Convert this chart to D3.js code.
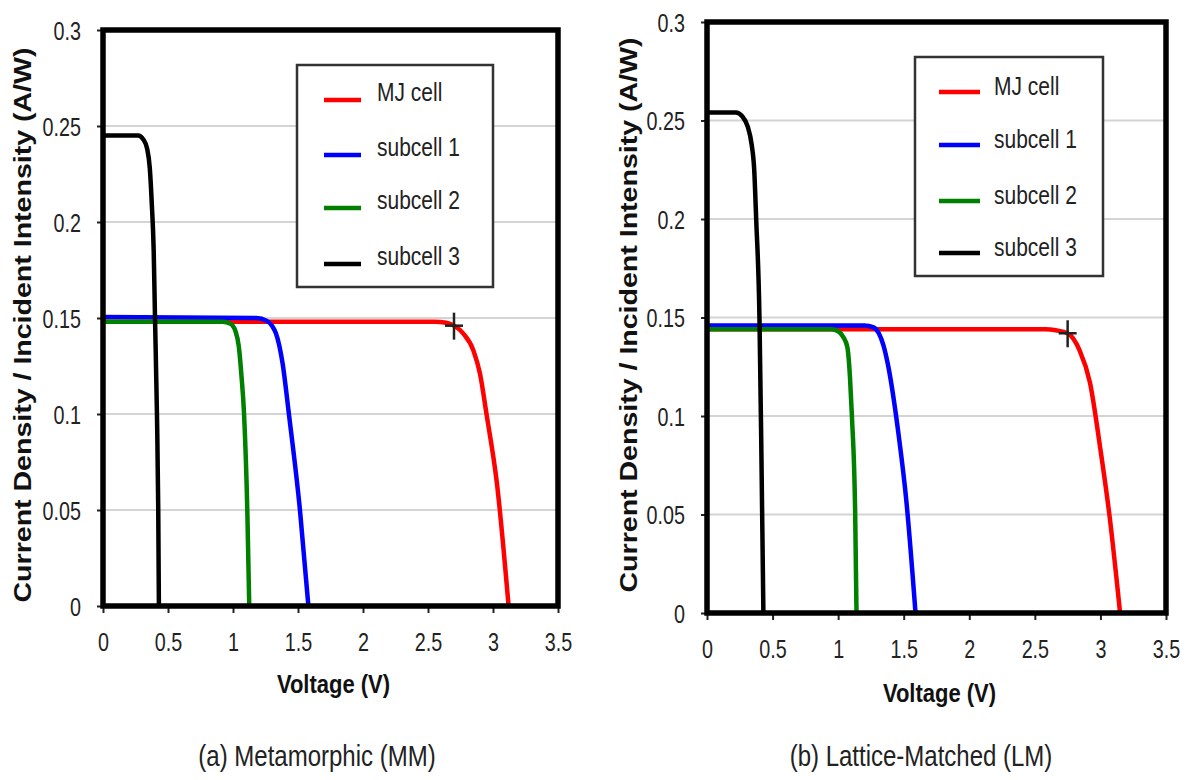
<!DOCTYPE html>
<html>
<head>
<meta charset="utf-8">
<script src="https://cdn.jsdelivr.net/npm/d3@7"></script>
<style>
  body { margin: 0; background: #fff; }
  svg { display: block; font-family: "Liberation Sans", Arial, sans-serif; }
</style>
</head>
<body>
<svg id="chart" width="1187" height="780"></svg>
<script>
// ---- Axis ticks ----
const voltageTicks = [0, 0.5, 1, 1.5, 2, 2.5, 3, 3.5];
const currentTicks = [0, 0.05, 0.1, 0.15, 0.2, 0.25, 0.3];
const gridTicks = [0.05, 0.1, 0.15, 0.2, 0.25];

// ---- Series ----
const seriesNames = ["MJ cell", "subcell 1", "subcell 2", "subcell 3"];
const seriesColors = ["#ff0000", "#0000ff", "#008000", "#000000"];

// Metamorphic (MM): [voltage V, current density A/W]
const mmMJCell = [[0, 0.148], [2.55, 0.148], [2.64, 0.1475], [2.70, 0.146], [2.77, 0.142],
  [2.85, 0.133], [2.90, 0.121], [2.95, 0.100], [3.03, 0.064], [3.12, 0]];
const mmSubcell1 = [[0, 0.1505], [1.18, 0.150], [1.26, 0.1485], [1.30, 0.146], [1.33, 0.142],
  [1.355, 0.136], [1.38, 0.127], [1.43, 0.100], [1.515, 0.050], [1.58, 0]];
const mmSubcell2 = [[0, 0.148], [0.92, 0.148], [0.98, 0.147], [1.02, 0.143], [1.045, 0.135],
  [1.065, 0.120], [1.085, 0.100], [1.11, 0.050], [1.125, 0]];
const mmSubcell3 = [[0, 0.245], [0.27, 0.245], [0.31, 0.243], [0.34, 0.238], [0.36, 0.228],
  [0.375, 0.210], [0.39, 0.185], [0.40, 0.150], [0.415, 0.100], [0.425, 0.050], [0.43, 0]];
const mmMaxPower = [2.70, 0.146];

// Lattice-Matched (LM)
const lmMJCell = [[0, 0.144], [2.58, 0.144], [2.66, 0.1435], [2.75, 0.142], [2.84, 0.1335],
  [2.92, 0.117], [3.00, 0.083], [3.07, 0.049], [3.15, 0]];
const lmSubcell1 = [[0, 0.146], [1.20, 0.146], [1.27, 0.145], [1.31, 0.142], [1.345, 0.136],
  [1.38, 0.126], [1.46, 0.091], [1.52, 0.057], [1.59, 0]];
const lmSubcell2 = [[0, 0.144], [0.95, 0.144], [1.00, 0.143], [1.04, 0.140], [1.07, 0.135],
  [1.09, 0.120], [1.105, 0.100], [1.13, 0.050], [1.14, 0]];
const lmSubcell3 = [[0, 0.254], [0.22, 0.254], [0.27, 0.252], [0.31, 0.247], [0.34, 0.238],
  [0.36, 0.225], [0.375, 0.200], [0.40, 0.150], [0.415, 0.080], [0.43, 0]];
const lmMaxPower = [2.75, 0.142];

const captions = ["(a) Metamorphic (MM)", "(b) Lattice-Matched (LM)"];
const xTitle = "Voltage (V)";
const yTitle = "Current Density / Incident Intensity  (A/W)";

// ---- Panel layout ----
const panels = [
  {
    series: [mmMJCell, mmSubcell1, mmSubcell2, mmSubcell3], marker: mmMaxPower, caption: captions[0],
    left: 103, right: 558, top: 30, bottom: 606,
    legend: { x: 297, y: 65, w: 196, h: 222, sx0: 324, sx1: 361, tx: 377, rows: [100, 155, 208, 264], tdy: 1 },
    yTitleX: 22, yTitleY: 325, xTitleY: 693, captionX: 317, captionY: 766
  },
  {
    series: [lmMJCell, lmSubcell1, lmSubcell2, lmSubcell3], marker: lmMaxPower, caption: captions[1],
    left: 707, right: 1166, top: 22, bottom: 613,
    legend: { x: 915, y: 57, w: 188, h: 219, sx0: 939, sx1: 980, tx: 994, rows: [92, 145, 201, 253], tdy: 3 },
    yTitleX: 628, yTitleY: 315, xTitleY: 702, captionX: 921, captionY: 766
  }
];

const svg = d3.select("#chart");

panels.forEach(p => {
  const x = d3.scaleLinear().domain([0, 3.5]).range([p.left, p.right]);
  const y = d3.scaleLinear().domain([0, 0.3]).range([p.bottom, p.top]);
  const g = svg.append("g");

  // horizontal gridlines
  g.append("g").selectAll("line").data(gridTicks).join("line")
    .attr("x1", p.left).attr("x2", p.right)
    .attr("y1", d => y(d)).attr("y2", d => y(d))
    .attr("stroke", "#d4d4d4").attr("stroke-width", 2);

  // I-V curves
  const line = d3.line().x(d => x(d[0])).y(d => y(d[1])).curve(d3.curveMonotoneX);
  g.append("g").selectAll("path").data(p.series).join("path")
    .attr("d", line)
    .attr("fill", "none")
    .attr("stroke", (d, i) => seriesColors[i])
    .attr("stroke-width", 4.5)
    .attr("stroke-linejoin", "round");

  // y axis
  const yAxis = g.append("g").attr("transform", `translate(${p.left},0)`)
    .call(d3.axisLeft(y).tickValues(currentTicks).tickSize(6).tickFormat(d => `${d}`));
  yAxis.select(".domain").remove();
  yAxis.selectAll(".tick line").attr("stroke", "#222").attr("stroke-width", 2);
  yAxis.selectAll(".tick text")
    .attr("x", -22 / 0.76).attr("dy", "0.36em")
    .attr("transform", "scale(0.76,1)")
    .attr("font-size", 26).attr("fill", "#222")
    .attr("font-family", "'Liberation Sans', Arial, sans-serif");

  // x axis
  const xAxis = g.append("g").attr("transform", `translate(0,${p.bottom})`)
    .call(d3.axisBottom(x).tickValues(voltageTicks).tickSize(7).tickFormat(d => `${d}`));
  xAxis.select(".domain").remove();
  xAxis.selectAll(".tick line").attr("stroke", "#222").attr("stroke-width", 2);
  xAxis.selectAll(".tick text")
    .attr("y", 45).attr("dy", 0)
    .attr("transform", "scale(0.76,1)")
    .attr("font-size", 26).attr("fill", "#222")
    .attr("font-family", "'Liberation Sans', Arial, sans-serif");

  // plot frame
  g.append("rect")
    .attr("x", p.left).attr("y", p.top)
    .attr("width", p.right - p.left).attr("height", p.bottom - p.top)
    .attr("fill", "none").attr("stroke", "#000").attr("stroke-width", 5.5);

  // maximum power point marker
  const mx = x(p.marker[0]), my = y(p.marker[1]);
  g.append("line").attr("x1", mx).attr("x2", mx).attr("y1", my - 13).attr("y2", my + 14)
    .attr("stroke", "#222").attr("stroke-width", 2.5);
  g.append("line").attr("x1", mx - 9).attr("x2", mx + 9).attr("y1", my).attr("y2", my)
    .attr("stroke", "#222").attr("stroke-width", 2.5);

  // legend
  const L = p.legend;
  const lg = g.append("g");
  lg.append("rect").attr("x", L.x).attr("y", L.y).attr("width", L.w).attr("height", L.h)
    .attr("fill", "#fff").attr("stroke", "#333").attr("stroke-width", 2.5);
  const items = lg.selectAll("g.item").data(seriesNames).join("g").attr("class", "item");
  items.append("line")
    .attr("x1", L.sx0).attr("x2", L.sx1)
    .attr("y1", (d, i) => L.rows[i]).attr("y2", (d, i) => L.rows[i])
    .attr("stroke", (d, i) => seriesColors[i]).attr("stroke-width", 4.5);
  items.append("text")
    .attr("transform", (d, i) => `translate(${L.tx},${L.rows[i] + L.tdy}) scale(0.84,1)`)
    .attr("font-size", 25).attr("fill", "#222")
    .text(d => d);

  // axis titles
  g.append("text")
    .attr("transform", `translate(${(p.left + p.right) / 2 + 3},${p.xTitleY}) scale(0.88,1)`)
    .attr("text-anchor", "middle").attr("font-size", 25).attr("font-weight", "bold").attr("fill", "#111")
    .text(xTitle);
  g.append("text")
    .attr("transform", `translate(${p.yTitleX},${p.yTitleY}) rotate(-90)`)
    .attr("text-anchor", "middle").attr("dominant-baseline", "central")
    .attr("font-size", 24).attr("font-weight", "bold").attr("fill", "#111")
    .attr("textLength", 555).attr("lengthAdjust", "spacingAndGlyphs")
    .text(yTitle);

  // caption
  g.append("text")
    .attr("transform", `translate(${p.captionX},${p.captionY}) scale(0.8,1)`)
    .attr("text-anchor", "middle").attr("font-size", 30).attr("fill", "#222")
    .text(p.caption);
});
</script>
</body>
</html>
